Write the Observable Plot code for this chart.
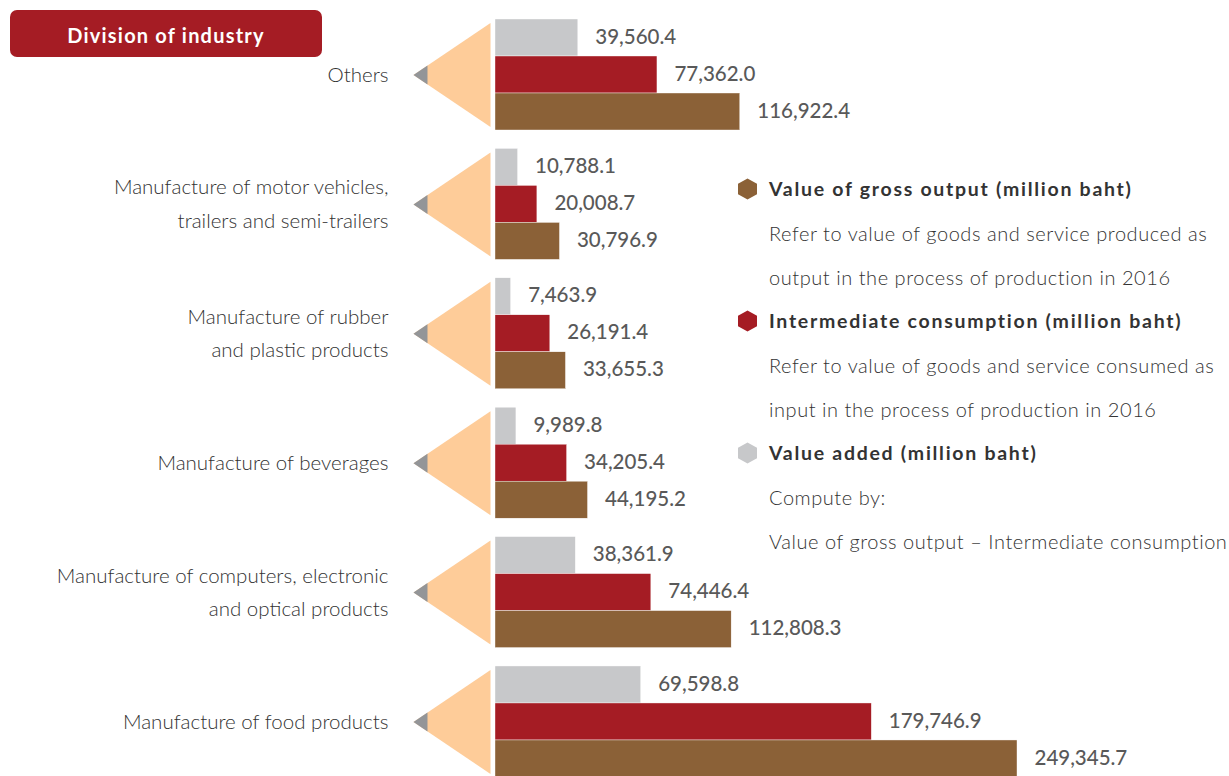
<!DOCTYPE html>
<html>
<head>
<meta charset="utf-8">
<script src="https://cdn.jsdelivr.net/npm/d3@7"></script>
<script src="https://cdn.jsdelivr.net/npm/@observablehq/plot@0.6"></script>
<style>
  html, body { margin: 0; padding: 0; background: #fff; }
  #wrap { position: relative; width: 1229px; height: 776px; overflow: hidden; font-family: Lato, "Noto Sans", sans-serif; }
  #title { position: absolute; left: 10px; top: 10px; width: 312px; height: 47px; box-sizing: border-box; padding-top: 3px; background: #a51c24; border-radius: 7px;
           color: #fff; font: 700 20px Lato, sans-serif; letter-spacing: 1.2px; display: flex; align-items: center; justify-content: center; }
  #legend { position: absolute; left: 737px; top: 177px; color: #333; }
  #legend .row { position: relative; height: 44px; line-height: 44px; padding-left: 32px; white-space: nowrap; }
  #legend .head { font: 700 19.5px Lato, sans-serif; letter-spacing: 1.72px; color: #333; }
  #legend .desc { font: 300 20px Lato, sans-serif; letter-spacing: 0.55px; color: #333; }
  #legend svg { position: absolute; left: 0; top: 1px; }
</style>
</head>
<body>
<div id="wrap">
  <div id="chart"></div>
  <div id="title">Division of industry</div>
  <div id="legend"></div>
</div>
<script>
const categories = [
  "Others",
  "Manufacture of motor vehicles,\ntrailers and semi-trailers",
  "Manufacture of rubber\nand plastic products",
  "Manufacture of beverages",
  "Manufacture of computers, electronic\nand optical products",
  "Manufacture of food products"
];
const seriesNames = ["Value added", "Intermediate consumption", "Value of gross output"];
const valueAdded   = [39560.4, 10788.1, 7463.9, 9989.8, 38361.9, 69598.8];
const intermediate = [77362.0, 20008.7, 26191.4, 34205.4, 74446.4, 179746.9];
const grossOutput  = [116922.4, 30796.9, 33655.3, 44195.2, 112808.3, 249345.7];
const seriesColors = ["#c7c8ca", "#a51c24", "#8b6137"];

const legendItems = [
  {color: "#8b6137", head: "Value of gross output (million baht)", lines: ["Refer to value of goods and service produced as", "output in the process of production in 2016"]},
  {color: "#a51c24", head: "Intermediate consumption (million baht)", lines: ["Refer to value of goods and service consumed as", "input in the process of production in 2016"]},
  {color: "#c7c8ca", head: "Value added (million baht)", lines: ["Compute by:", "Value of gross output \u2013 Intermediate consumption"]}
];

const seriesValues = [valueAdded, intermediate, grossOutput];
const rows = [];
categories.forEach((c, i) => {
  seriesNames.forEach((s, j) => rows.push({category: c, series: s, value: seriesValues[j][i]}));
});

const fmt = d3.format(",.1f");

const bigTri = {draw(ctx) { ctx.moveTo(-5, -52); ctx.lineTo(-5, 52); ctx.lineTo(-82, 0); ctx.closePath(); }};
const smallTri = {draw(ctx) { ctx.moveTo(-82, 0); ctx.lineTo(-68, -9.5); ctx.lineTo(-68, 9.5); ctx.closePath(); }};

const chart = Plot.plot({
  width: 1229,
  height: 776,
  marginTop: 19,
  marginBottom: -1,
  marginLeft: 0,
  marginRight: 0,
  style: {background: "transparent", overflow: "visible"},
  x: {domain: [0, 249345.7], range: [495, 1017], axis: null},
  y: {domain: seriesNames, padding: 0, axis: null},
  fy: {domain: categories, paddingInner: 0.142, paddingOuter: 0, round: false, axis: null},
  color: {domain: seriesNames, range: seriesColors},
  marks: [
    Plot.dot(categories, {fy: d => d, x: d => 0, symbol: bigTri, fill: "#fecc99", stroke: "none", r: 5}),
    Plot.dot(categories, {fy: d => d, x: d => 0, symbol: smallTri, fill: "#939598", stroke: "none", r: 5}),
    Plot.barX(rows, {x: "value", y: "series", fy: "category", fill: "series", stroke: "#fff", strokeWidth: 0.4}),
    Plot.text(rows, {x: "value", y: "series", fy: "category", text: d => fmt(d.value), dx: 17, dy: -1, textAnchor: "start",
      fill: "#595959", fontSize: 20.5, fontWeight: 500, fontFamily: "Lato, sans-serif", letterSpacing: "0.3px"}),
    Plot.text(categories, {fy: d => d, frameAnchor: "left", dx: 388, dy: -4, textAnchor: "end", lineAnchor: "middle", text: d => d,
      fill: "#333", fontSize: 20.5, fontWeight: 300, fontFamily: "Lato, sans-serif", lineHeight: 1.62})
  ]
});
document.getElementById("chart").appendChild(chart);

const legend = document.getElementById("legend");
legendItems.forEach(item => {
  const h = document.createElement("div");
  h.className = "row head";
  h.innerHTML = `<svg width="21" height="22" viewBox="-10.5 -11 21 22"><polygon points="0,-10.5 9.5,-5.25 9.5,5.25 0,10.5 -9.5,5.25 -9.5,-5.25" fill="${item.color}"/></svg>`;
  h.appendChild(document.createTextNode(item.head));
  legend.appendChild(h);
  item.lines.forEach(l => {
    const d = document.createElement("div");
    d.className = "row desc";
    d.textContent = l;
    legend.appendChild(d);
  });
});
</script>
</body>
</html>
